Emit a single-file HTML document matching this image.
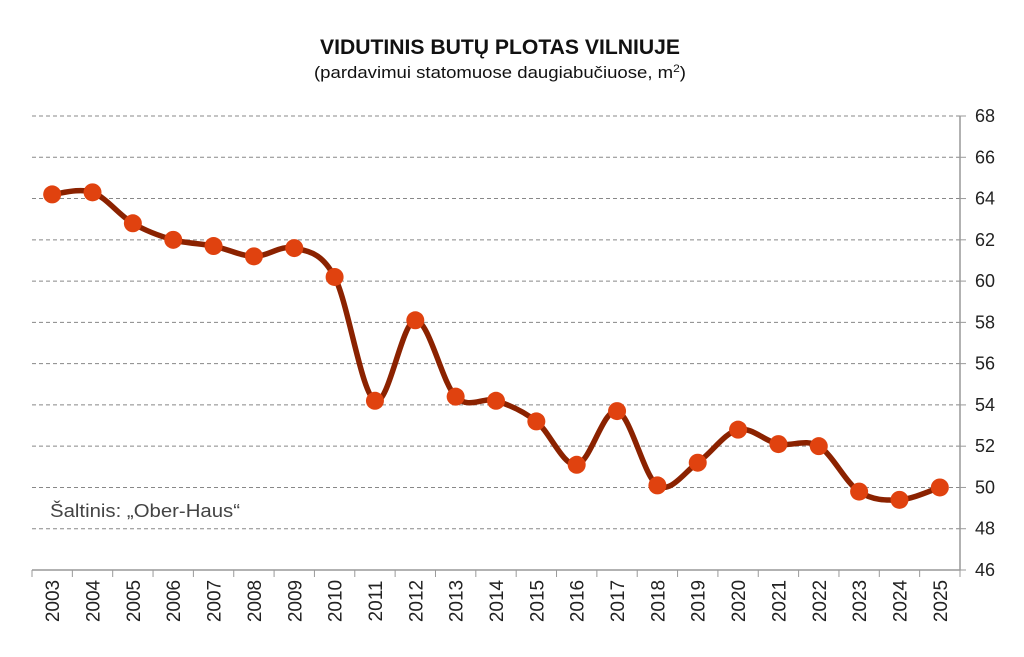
<!DOCTYPE html>
<html><head><meta charset="utf-8"><style>
html,body{margin:0;padding:0;background:#fff;}
svg{display:block;font-family:"Liberation Sans",sans-serif;}
</style></head><body>
<svg id="s" width="1024" height="657" viewBox="0 0 1024 657" xmlns="http://www.w3.org/2000/svg">
<text x="500" y="54" text-anchor="middle" font-size="21" font-weight="bold" textLength="360" lengthAdjust="spacingAndGlyphs" fill="#111">VIDUTINIS BUTŲ PLOTAS VILNIUJE</text>
<text x="500" y="78" text-anchor="middle" font-size="17" textLength="372" lengthAdjust="spacingAndGlyphs" fill="#111">(pardavimui statomuose daugiabučiuose, m<tspan dy="-6" font-size="11">2</tspan><tspan dy="6">)</tspan></text>
<g id="grid"></g>
<text x="50" y="517" font-size="18" fill="#444" textLength="190" lengthAdjust="spacingAndGlyphs">Šaltinis: „Ober-Haus“</text>
<g id="data"></g>
</svg>
<script>
var s=document.getElementById('grid'),d=document.getElementById('data'),ns="http://www.w3.org/2000/svg";
function el(p,t,a){var e=document.createElementNS(ns,t);for(var k in a)e.setAttribute(k,a[k]);p.appendChild(e);return e;}
function Y(v){return 570-(v-46)*(454/22);}
for(var v=48;v<=68;v+=2){el(s,'line',{x1:32,x2:960,y1:Y(v),y2:Y(v),stroke:'#888','stroke-dasharray':'4,3','stroke-width':1});}
for(var v=46;v<=68;v+=2){el(s,'line',{x1:960,x2:966,y1:Y(v),y2:Y(v),stroke:'#999'});var t=el(s,'text',{x:975,y:Y(v)+6,'font-size':18,fill:'#222'});t.textContent=v;}
el(s,'line',{x1:960,x2:960,y1:116,y2:570,stroke:'#999','stroke-width':1.5});
el(s,'line',{x1:32,x2:960,y1:570,y2:570,stroke:'#999','stroke-width':1.5});
var step=(960-32)/23;
for(var i=0;i<=23;i++){el(s,'line',{x1:32+i*step,x2:32+i*step,y1:570,y2:577,stroke:'#999'});}
var vals=[64.2,64.3,62.8,62.0,61.7,61.2,61.6,60.2,54.2,58.1,54.4,54.2,53.2,51.1,53.7,50.1,51.2,52.8,52.1,52.0,49.8,49.4,50.0];
var pts=vals.map(function(v,i){return [32+step*(i+0.5),Y(v)];});
for(var i=0;i<23;i++){var x=pts[i][0]+7,t=el(s,'text',{x:x,y:601,'font-size':19,fill:'#222','text-anchor':'middle',transform:'rotate(-90 '+x+' 601)'});t.textContent=2003+i;}
var p='M'+pts[0][0]+','+pts[0][1];
for(var i=0;i<pts.length-1;i++){var p0=pts[Math.max(i-1,0)],p1=pts[i],p2=pts[i+1],p3=pts[Math.min(i+2,pts.length-1)];
var c1=[p1[0]+(p2[0]-p0[0])/6,p1[1]+(p2[1]-p0[1])/6],c2=[p2[0]-(p3[0]-p1[0])/6,p2[1]-(p3[1]-p1[1])/6];
p+=' C'+c1+' '+c2+' '+p2;}
el(d,'path',{d:p,fill:'none',stroke:'#8b2200','stroke-width':5.5,'stroke-linecap':'round'});
pts.forEach(function(q){el(d,'circle',{cx:q[0],cy:q[1],r:9,fill:'#e0420f'});});
</script>
</body></html>
